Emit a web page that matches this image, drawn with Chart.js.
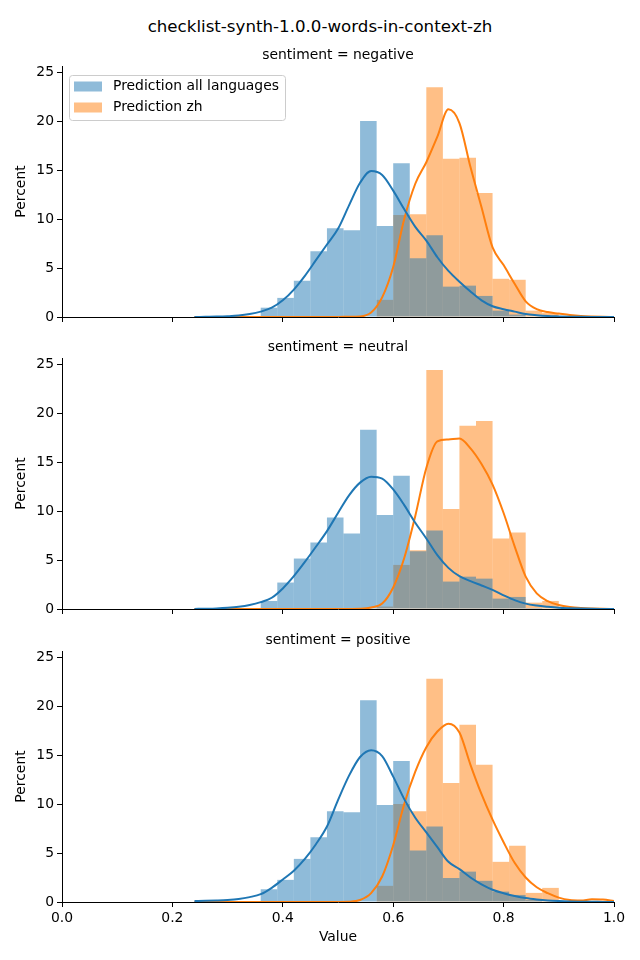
<!DOCTYPE html>
<html lang="en">
<head>
<meta charset="UTF-8">
<title>checklist-synth-1.0.0-words-in-context-zh</title>
<script src="https://cdn.jsdelivr.net/npm/chart.js"></script>
<style>
  body { margin: 0; background: #fff; }
  #fig { position: relative; width: 640px; height: 960px; font-family: "DejaVu Sans", sans-serif; }
  #suptitle { position: absolute; left: 0; top: 17px; width: 640px; text-align: center; font-size: 16.67px; line-height: 20px; color: #000; }
  canvas { position: absolute; left: 0; }
</style>
</head>
<body>
<div id="fig">
  <div id="suptitle">checklist-synth-1.0.0-words-in-context-zh</div>
  <canvas id="c0" width="640" height="286"></canvas>
  <canvas id="c1" width="640" height="286"></canvas>
  <canvas id="c2" width="640" height="322"></canvas>
</div>
<script>
// histogram bins (centres, width 0.03)
const binCenters = [0.345, 0.375, 0.405, 0.435, 0.465, 0.495, 0.525, 0.555, 0.585, 0.615,
                    0.645, 0.675, 0.705, 0.735, 0.765, 0.795, 0.825, 0.855, 0.885, 0.915];

// percent per bin
const negAll = [0, 0.95, 1.95, 3.7, 6.7, 9.05, 8.85, 20.0, 9.3, 15.7, 6.0, 8.35, 3.1, 3.2, 2.15, 0.65, 0.25, 0.05, 0, 0];
const negZh  = [0, 0, 0, 0, 0, 0, 0, 0, 1.75, 10.4, 10.5, 23.45, 16.15, 16.25, 12.65, 3.9, 3.8, 0.65, 0.4, 0.1];
const neuAll = [0, 0.82, 2.7, 5.15, 6.8, 9.35, 7.7, 18.3, 9.6, 13.6, 5.9, 8.0, 2.8, 3.3, 3.1, 1.06, 1.23, 0.1, 0, 0];
const neuZh  = [0, 0, 0, 0, 0, 0, 0, 0, 0.25, 4.5, 6.0, 24.4, 10.2, 18.7, 19.2, 7.2, 7.8, 0.65, 0.82, 0];
const posAll = [0, 1.3, 2.26, 4.4, 6.6, 9.26, 9.15, 20.6, 9.9, 14.4, 5.25, 7.7, 2.45, 3.1, 2.16, 1.06, 0.72, 0.2, 0, 0];
const posZh  = [0, 0, 0, 0, 0, 0, 0, 0, 1.65, 10.0, 9.26, 22.8, 12.15, 18.1, 14.0, 4.1, 5.75, 0.93, 1.44, 0.1];

// kde curves
const kdeX = [0.24, 0.26, 0.28, 0.30, 0.32, 0.34, 0.36, 0.38, 0.40, 0.42, 0.44, 0.46, 0.48, 0.50,
              0.52, 0.54, 0.56, 0.58, 0.60, 0.62, 0.64, 0.66, 0.68, 0.70, 0.72, 0.74, 0.76, 0.78,
              0.80, 0.82, 0.84, 0.86, 0.88, 0.90, 0.92, 0.94, 0.96, 0.98, 1.00];
const negAllKde = [0, 0.02, 0.04, 0.08, 0.15, 0.3, 0.55, 0.95, 1.7, 2.8, 4.2, 5.8, 7.4, 9.0,
                   11.4, 13.7, 14.9, 14.5, 12.9, 11.0, 9.2, 7.8, 6.1, 4.7, 3.6, 2.6, 1.7, 1.1,
                   0.8, 0.55, 0.3, 0.18, 0.1, 0.06, 0.03, 0.02, 0.01, 0, 0];
const negZhKde  = [0, 0, 0, 0, 0, 0, 0, 0, 0, 0, 0, 0, 0.01, 0.01,
                   0.02, 0.05, 0.45, 2.0, 5.1, 10.0, 13.6, 15.8, 18.4, 21.2, 19.8, 15.3, 11.2, 7.1,
                   5.3, 3.4, 1.6, 0.8, 0.5, 0.35, 0.2, 0.1, 0.05, 0.02, 0.01];
const neuAllKde = [0.01, 0.03, 0.06, 0.12, 0.22, 0.4, 0.7, 1.15, 2.1, 3.35, 4.8, 6.35, 7.95, 9.8,
                   11.6, 12.9, 13.5, 13.3, 12.2, 10.6, 8.8, 7.2, 5.5, 4.2, 3.35, 2.85, 2.4, 1.95,
                   1.4, 0.9, 0.55, 0.35, 0.22, 0.12, 0.07, 0.04, 0.02, 0.01, 0];
const neuZhKde  = [0, 0, 0, 0, 0, 0, 0, 0, 0, 0, 0, 0, 0, 0,
                   0.01, 0.03, 0.15, 0.55, 2.2, 5.2, 9.5, 14.4, 17.1, 17.3, 17.4, 16.4, 14.8, 12.7,
                   9.8, 6.4, 3.3, 1.6, 0.8, 0.4, 0.2, 0.1, 0.05, 0.02, 0.01];
const posAllKde = [0.1, 0.12, 0.15, 0.2, 0.3, 0.5, 0.8, 1.45, 2.3, 3.2, 4.4, 5.9, 7.7, 10.4,
                   12.9, 14.8, 15.5, 14.9, 12.8, 10.5, 8.6, 7.1, 5.6, 4.1, 3.35, 2.5, 1.8, 1.25,
                   0.9, 0.62, 0.4, 0.26, 0.16, 0.1, 0.06, 0.03, 0.02, 0.01, 0];
const posZhKde  = [0, 0, 0, 0, 0, 0, 0, 0, 0, 0, 0, 0, 0, 0.01,
                   0.03, 0.2, 0.9, 2.6, 5.8, 10.0, 13.3, 15.8, 17.4, 18.2, 17.3, 14.0, 11.0, 8.4,
                   6.1, 4.0, 2.5, 1.5, 0.9, 0.45, 0.2, 0.15, 0.28, 0.25, 0.1];

const sentiments = ['negative', 'neutral', 'positive'];
const seriesNames = ['Prediction all languages', 'Prediction zh'];
const xTicks = [0, 0.2, 0.4, 0.6, 0.8, 1.0];
const yTicks = [0, 5, 10, 15, 20, 25];

const allBars = [negAll, neuAll, posAll];
const zhBars = [negZh, neuZh, posZh];
const allKde = [negAllKde, neuAllKde, posAllKde];
const zhKde = [negZhKde, neuZhKde, posZhKde];

const lineColors = ['#1f77b4', '#ff7f0e'];
const fillColors = ['rgba(31,119,180,0.5)', 'rgba(255,127,14,0.5)'];

const FONT = "'DejaVu Sans', sans-serif";
Chart.defaults.font.family = FONT;
Chart.defaults.color = '#000';

// where each axes box sits on the page
const axTops = [66, 358, 651];
const titleBlock = 21;   // subplot title height above axes

// legend drawn inside the first panel, like matplotlib's
const legendBox = {
  id: 'legendBox',
  afterDatasetsDraw(chart, args, opts) {
    if (!opts.show) return;
    const ctx = chart.ctx, a = chart.chartArea;
    const x = a.left + 7, y = a.top + 9, w = 216, h = 45;
    ctx.save();
    ctx.beginPath();
    ctx.roundRect(x + 0.5, y + 0.5, w, h, 3);
    ctx.fillStyle = 'rgba(255,255,255,0.8)';
    ctx.fill();
    ctx.strokeStyle = '#cccccc';
    ctx.lineWidth = 1;
    ctx.stroke();
    ctx.font = "13.9px " + FONT;
    ctx.textBaseline = 'middle';
    seriesNames.forEach((name, i) => {
      const cy = y + 11.5 + i * 21;
      ctx.fillStyle = fillColors[i];
      ctx.fillRect(x + 5, cy - 5, 28, 10);
      ctx.fillStyle = '#000';
      ctx.fillText(name, x + 44, cy);
    });
    ctx.restore();
  }
};

function makePanel(i) {
  const last = i === 2;
  const xh = last ? 50 : 14;
  const canvas = document.getElementById('c' + i);
  canvas.style.top = (axTops[i] - titleBlock) + 'px';

  const tickFont = { family: FONT, size: 13.9 };
  const barDs = (vals, k) => ({
    label: seriesNames[k],
    data: binCenters.map((x, j) => ({ x: x, y: vals[j] })),
    backgroundColor: fillColors[k],
    borderWidth: 0,
    inflateAmount: 0,
    grouped: false,
    barPercentage: 1,
    categoryPercentage: 1,
    order: k + 1
  });
  const lineDs = (vals, k) => ({
    type: 'line',
    label: seriesNames[k] + ' kde',
    data: kdeX.map((x, j) => ({ x: x, y: vals[j] })),
    borderColor: lineColors[k],
    borderWidth: 2,
    pointRadius: 0,
    fill: false,
    cubicInterpolationMode: 'monotone',
    order: 0
  });

  new Chart(canvas, {
    type: 'bar',
    data: {
      datasets: [
        lineDs(allKde[i], 0),
        lineDs(zhKde[i], 1),
        barDs(allBars[i], 0),
        barDs(zhBars[i], 1)
      ]
    },
    options: {
      responsive: false,
      animation: false,
      layout: { padding: { left: 0, right: 26, top: 0, bottom: 0 } },
      scales: {
        x: {
          type: 'linear',
          min: 0,
          max: 1,
          offset: false,
          afterBuildTicks: s => { s.ticks = xTicks.map(v => ({ value: v })); },
          afterFit: s => { s.height = xh; },
          ticks: {
            display: last,
            font: tickFont,
            color: '#000',
            padding: 3,
            maxRotation: 0,
            autoSkip: false,
            callback: v => Number(v).toFixed(1)
          },
          grid: { drawOnChartArea: false, color: '#000', tickLength: 5, offset: false },
          border: { color: '#000', width: 1 },
          title: { display: last, text: 'Value', font: tickFont, color: '#000', padding: { top: 0, bottom: 6.6 } }
        },
        y: {
          min: 0,
          max: 25.62,
          afterBuildTicks: s => { s.ticks = yTicks.map(v => ({ value: v })); },
          afterFit: s => { s.width = 62; },
          ticks: { font: tickFont, color: '#000', padding: 3 },
          grid: { drawOnChartArea: false, color: '#000', tickLength: 5 },
          border: { color: '#000', width: 1 },
          title: { display: true, text: 'Percent', font: tickFont, color: '#000', padding: { top: 13, bottom: 0 } }
        }
      },
      plugins: {
        legend: { display: false },
        tooltip: { enabled: false },
        title: {
          display: true,
          text: 'sentiment = ' + sentiments[i],
          font: { family: FONT, size: 13.9, weight: 'normal' },
          color: '#000',
          padding: { top: 2, bottom: 2.32 },
          fullSize: false
        },
        legendBox: { show: i === 0 }
      }
    },
    plugins: [legendBox]
  });
}

[0, 1, 2].forEach(makePanel);
</script>
</body>
</html>
